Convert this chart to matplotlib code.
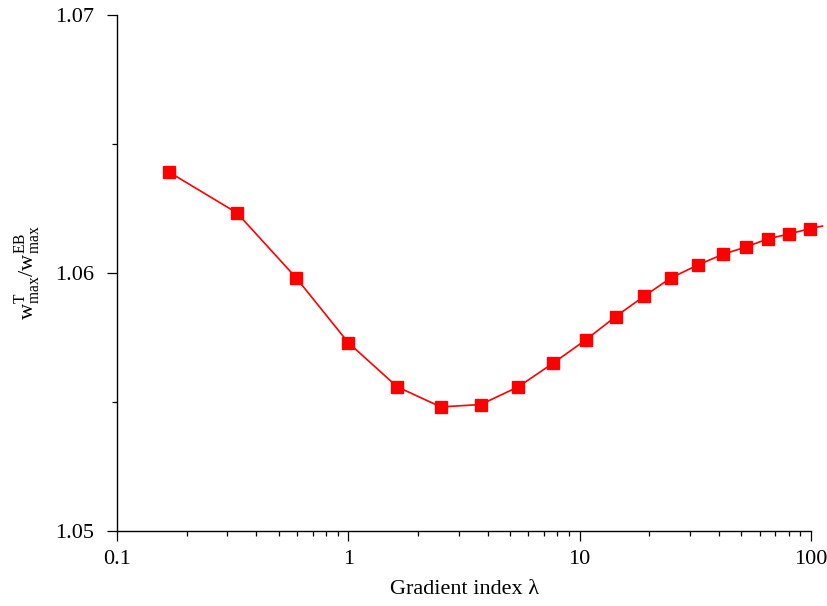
import matplotlib
matplotlib.use("Agg")
import matplotlib.pyplot as plt
from matplotlib.ticker import FixedLocator, FixedFormatter, NullFormatter

plt.rcParams["font.family"] = ["Liberation Serif", "DejaVu Serif"]
plt.rcParams["mathtext.fontset"] = "custom"
plt.rcParams["mathtext.rm"] = "Liberation Serif"

# gradient index and deflection ratio
lam = [0.168, 0.33, 0.594, 1.0, 1.625, 2.51, 3.73, 5.43, 7.66, 10.6,
       14.3, 19.05, 24.8, 32.4, 41.5, 52.3, 64.9, 80.7, 99.3, 112.0]
ratio = [1.06391, 1.06233, 1.05982, 1.0573, 1.05559, 1.05481, 1.05490,
         1.05559, 1.0565, 1.0574, 1.05831, 1.05911, 1.05981, 1.06031,
         1.06072, 1.06101, 1.06132, 1.06152, 1.06172, 1.06182]
n_marked = 19  # last entry only continues the line past the axis

xticks = [0.1, 1, 10, 100]
xticklabels = ["0.1", "1", "10", "100"]
yticks = [1.05, 1.06, 1.07]
yticklabels = ["1.05", "1.06", "1.07"]
yminor = [1.055, 1.065]

fig = plt.figure(figsize=(8.28, 6.06), dpi=100)
ax = fig.add_axes([0.1413, 0.1238, 0.8382, 0.8514])

ax.plot(lam, ratio, color="#ff0000", linewidth=1.2, marker="s",
        markersize=8.5, markevery=list(range(n_marked)), clip_on=False,
        zorder=3)

ax.set_xscale("log")
ax.set_xlim(0.1, 100)
ax.set_ylim(1.05, 1.07)

ax.xaxis.set_major_locator(FixedLocator(xticks))
ax.xaxis.set_major_formatter(FixedFormatter(xticklabels))
ax.xaxis.set_minor_formatter(NullFormatter())
ax.yaxis.set_major_locator(FixedLocator(yticks))
ax.yaxis.set_major_formatter(FixedFormatter(yticklabels))
ax.yaxis.set_minor_locator(FixedLocator(yminor))

for side in ("top", "right"):
    ax.spines[side].set_visible(False)
for side in ("left", "bottom"):
    ax.spines[side].set_linewidth(1.0)

ax.tick_params(which="major", direction="out", length=7.5, width=0.9,
               labelsize=16)
ax.tick_params(which="minor", direction="out", length=3.8, width=0.9)
ax.tick_params(axis="y", which="major", pad=9)
ax.tick_params(axis="x", which="major", pad=6)

ax.set_xlabel("Gradient index λ", fontsize=16, labelpad=8)
ax.set_ylabel(r"$\mathrm{w}_{\mathrm{max}}^{\mathrm{T}}/\mathrm{w}_{\mathrm{max}}^{\mathrm{EB}}$",
              fontsize=16, labelpad=9)

fig.savefig("out.png", dpi=100)
